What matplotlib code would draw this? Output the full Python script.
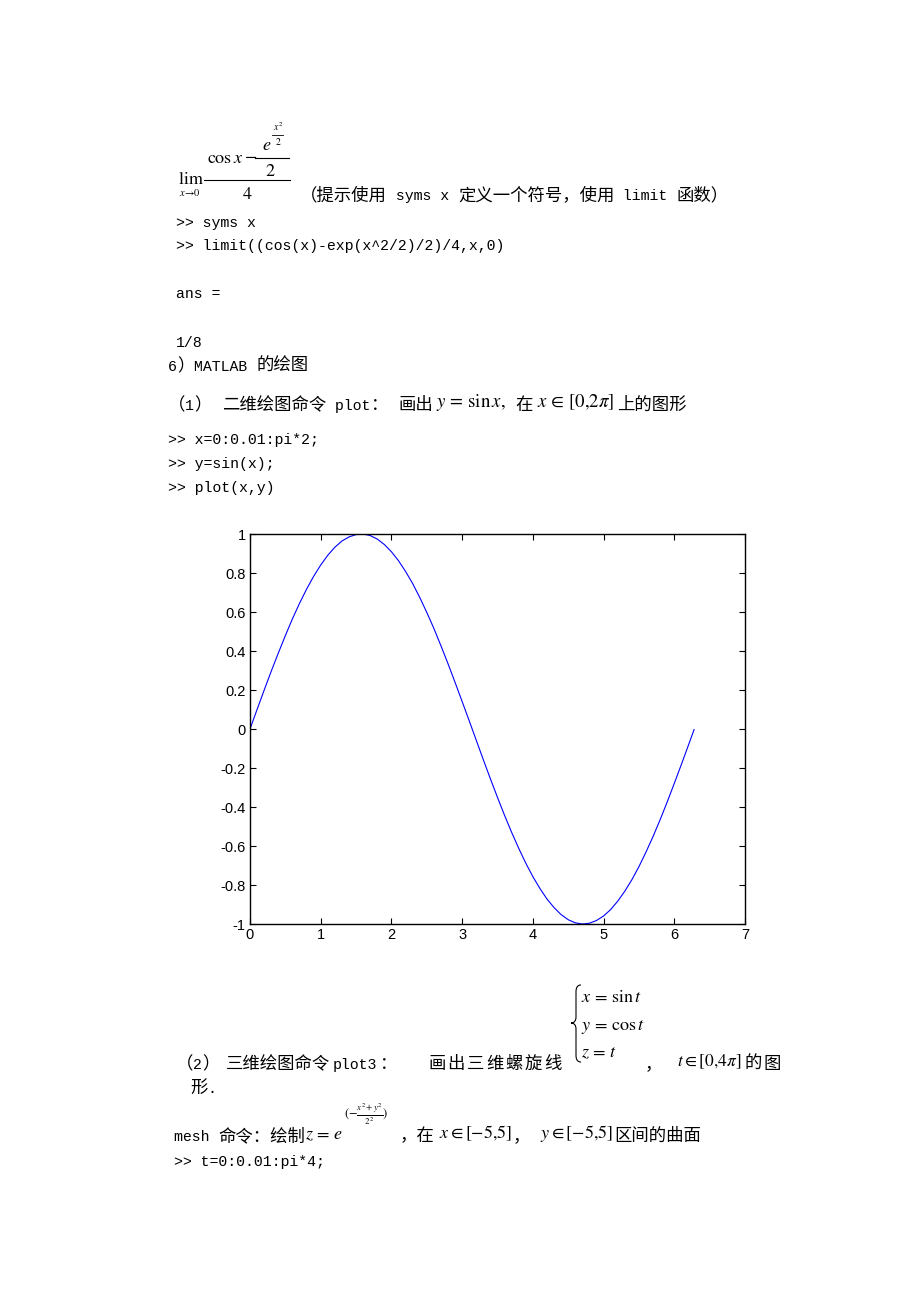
import matplotlib
matplotlib.use("Agg")
import matplotlib.pyplot as plt
from matplotlib.lines import Line2D
from matplotlib.path import Path
from matplotlib.patches import PathPatch

W, H, DPI = 920, 1302, 100

# courbe : y = sin x, x de 0 a 2*pi
x_vals = [0.0, 0.1, 0.2, 0.3, 0.4, 0.5, 0.6, 0.7, 0.8, 0.9,
          1.0, 1.1, 1.2, 1.3, 1.4, 1.5, 1.6, 1.7, 1.8, 1.9,
          2.0, 2.1, 2.2, 2.3, 2.4, 2.5, 2.6, 2.7, 2.8, 2.9,
          3.0, 3.1, 3.2, 3.3, 3.4, 3.5, 3.6, 3.7, 3.8, 3.9,
          4.0, 4.1, 4.2, 4.3, 4.4, 4.5, 4.6, 4.7, 4.8, 4.9,
          5.0, 5.1, 5.2, 5.3, 5.4, 5.5, 5.6, 5.7, 5.8, 5.9,
          6.0, 6.1, 6.2, 6.28]
y_vals = [0.000, 0.100, 0.199, 0.296, 0.389, 0.479, 0.565, 0.644, 0.717, 0.783,
          0.841, 0.891, 0.932, 0.964, 0.985, 0.997, 1.000, 0.992, 0.974, 0.946,
          0.909, 0.863, 0.808, 0.746, 0.675, 0.598, 0.516, 0.427, 0.335, 0.239,
          0.141, 0.042, -0.058, -0.158, -0.256, -0.351, -0.443, -0.530, -0.612, -0.688,
          -0.757, -0.818, -0.872, -0.916, -0.952, -0.978, -0.994, -1.000, -0.996, -0.982,
          -0.959, -0.926, -0.883, -0.832, -0.773, -0.706, -0.631, -0.551, -0.465, -0.374,
          -0.279, -0.182, -0.083, -0.003]
x_ticks = [0, 1, 2, 3, 4, 5, 6, 7]
y_ticks = [-1, -0.8, -0.6, -0.4, -0.2, 0, 0.2, 0.4, 0.6, 0.8, 1]
y_tick_labels = ["-1", "-0.8", "-0.6", "-0.4", "-0.2", "0", "0.2", "0.4", "0.6", "0.8", "1"]

plt.rcParams['mathtext.fontset'] = 'stix'

fig = plt.figure(figsize=(W / DPI, H / DPI), dpi=DPI)

CJK = 'Noto Sans CJK SC'
MONO = 'Liberation Mono'
CJK_PT = 12.5
MONO_PT = 10.7
MATH_PT = 13
CJK_W = CJK_PT * DPI / 72.0
MONO_W = 0.6 * MONO_PT * DPI / 72.0


def fx(px):
	return px / W


def fy(py):
	return 1 - py / H


def put(x, y, text, kind='c', size=None, pitch=None):
	# ecrit un morceau de texte, renvoie la position x suivante (en pixels)
	if kind == 'c':
		if pitch:
			# ligne justifiee : un caractere a la fois
			for ch in text:
				fig.text(fx(x), fy(y), ch, family=[CJK, 'DejaVu Sans'], fontsize=CJK_PT, va='baseline', ha='left')
				x += pitch
			return x
		fig.text(fx(x), fy(y), text, family=[CJK, 'DejaVu Sans'], fontsize=CJK_PT, va='baseline', ha='left')
		return x + len(text) * CJK_W
	if kind == 'm':
		fig.text(fx(x), fy(y), text, family=[MONO, CJK], fontsize=MONO_PT, va='baseline', ha='left')
		return x + len(text) * MONO_W
	if kind == 's':
		fig.text(fx(x), fy(y), text, family='STIXGeneral', fontsize=size or MATH_PT, va='baseline', ha='left')
		return x
	fig.text(fx(x), fy(y), text, fontsize=size or MATH_PT, va='baseline', ha='left')
	return x


def run(x, y, parts):
	for text, kind in parts:
		x = put(x, y, text, kind)
	return x


def hline(x0, x1, y, lw=0.8):
	fig.add_artist(Line2D([fx(x0), fx(x1)], [fy(y), fy(y)], lw=lw, color='k'))


# limite
put(178, 184, r"$\mathrm{lim}$", 'f', 13)
put(179, 196, r"$x\!\to\!0$", 'f', 7.5)
hline(204, 290, 180)
put(207, 163, r"$\cos x$", 'f', 13)
put(245, 162, "\u2212", 's', 13)
hline(255, 289, 158)
put(265, 176, r"$2$", 'f', 13)
put(262, 150, r"$e$", 'f', 13)
put(273, 131, r"$x^2$", 'f', 7)
hline(272, 283, 135, 0.6)
put(275, 145, r"$2$", 'f', 7)
put(242, 199, r"$4$", 'f', 13)

run(300, 200, [("（提示使用", 'c'), (" syms x ", 'm'), ("定义一个符号，使用", 'c'),
			   (" limit ", 'm'), ("函数）", 'c')])

put(176, 227, ">> syms x", 'm')
put(176, 250, ">> limit((cos(x)-exp(x^2/2)/2)/4,x,0)", 'm')
put(176, 298, "ans =", 'm')
put(176, 347, "1/8", 'm')
run(168, 371, [("6", 'm'), ("）", 'c'), ("MATLAB ", 'm'), ("的绘图", 'c')])

run(168, 410, [("（", 'c'), ("1", 'm'), ("）", 'c')])
x = run(222, 410, [("二维绘图命令", 'c'), (" plot", 'm')])
put(x, 410, "：", 'c')
put(398, 410, "画出", 'c')
put(436, 407, r"$y\,=\,\sin x,$", 'f', 13.5)
put(515, 410, "在", 'c')
put(537, 407, r"$x\,\in\,[0{,}2\pi]$", 'f', 13.5)
put(617, 410, "上的图形", 'c')

put(168, 444, ">> x=0:0.01:pi*2;", 'm')
put(168, 468, ">> y=sin(x);", 'm')
put(168, 492, ">> plot(x,y)", 'm')

# graphique
ax = fig.add_axes([fx(250), fy(924), 495 / W, 390 / H])
ax.plot(x_vals, y_vals, color='#0000ff', lw=0.8)
ax.set_xlim(0, 7)
ax.set_ylim(-1, 1)
ax.set_xticks(x_ticks)
ax.set_xticklabels([str(t) for t in x_ticks])
ax.set_yticks(y_ticks)
ax.set_yticklabels(y_tick_labels)
ax.tick_params(direction='in', top=True, right=True, length=4.5, width=0.8, labelsize=10.5, pad=3)
for lbl in ax.get_xticklabels() + ax.get_yticklabels():
	lbl.set_family('Liberation Sans')
for sp in ax.spines.values():
	sp.set_linewidth(1.0)

# (2) plot3 (ligne justifiee)
run(176, 1069, [("（", 'c'), ("2", 'm'), ("）", 'c')])
put(226, 1069, "三维绘图命令", 'c')
put(333, 1069, "plot3", 'm')
put(380, 1069, "：", 'c')
put(428, 1069, "画出三维螺旋线", 'c', pitch=19.3)

b = [(581, 985), (577, 985), (576, 988), (576, 992), (576, 1017),
	 (576, 1021), (574, 1023), (571, 1023), (574, 1023), (576, 1025), (576, 1029),
	 (576, 1055), (576, 1059), (577, 1062), (581, 1062)]
codes = [Path.MOVETO, Path.CURVE4, Path.CURVE4, Path.CURVE4, Path.LINETO,
		 Path.CURVE4, Path.CURVE4, Path.CURVE4, Path.CURVE4, Path.CURVE4, Path.CURVE4,
		 Path.LINETO, Path.CURVE4, Path.CURVE4, Path.CURVE4]
brace = Path([(fx(px), fy(py)) for px, py in b], codes)
fig.add_artist(PathPatch(brace, transform=fig.transFigure, fill=False, lw=0.8, color='k'))

put(581, 1002, r"$x\,=\,\sin t$", 'f', 13)
put(581, 1030, r"$y\,=\,\cos t$", 'f', 13)
put(581, 1057, r"$z\,=\,t$", 'f', 13)
put(645, 1069, "，", 'c')
put(677, 1066, r"$t\in[0{,}4\pi]$", 'f', 12.5)
put(745, 1069, "的图", 'c', pitch=18.5)
run(190, 1093, [("形", 'c'), (".", 'm')])

# mesh
x = run(174, 1141, [("mesh ", 'm'), ("命令：绘制", 'c')])
put(x, 1139, r"$z\,=\,e$", 'f')
put(344, 1118, r"$(-\frac{x^2+y^2}{2^2})$", 'f', 9)
put(400, 1141, "，在", 'c')
put(439, 1138, r"$x\in[-5{,}5]$", 'f')
put(513, 1141, "，", 'c')
put(540, 1138, r"$y\in[-5{,}5]$", 'f')
put(614, 1141, "区间的曲面", 'c')
put(174, 1166, ">> t=0:0.01:pi*4;", 'm')

fig.savefig("out.png", dpi=DPI)
plt.close(fig)
